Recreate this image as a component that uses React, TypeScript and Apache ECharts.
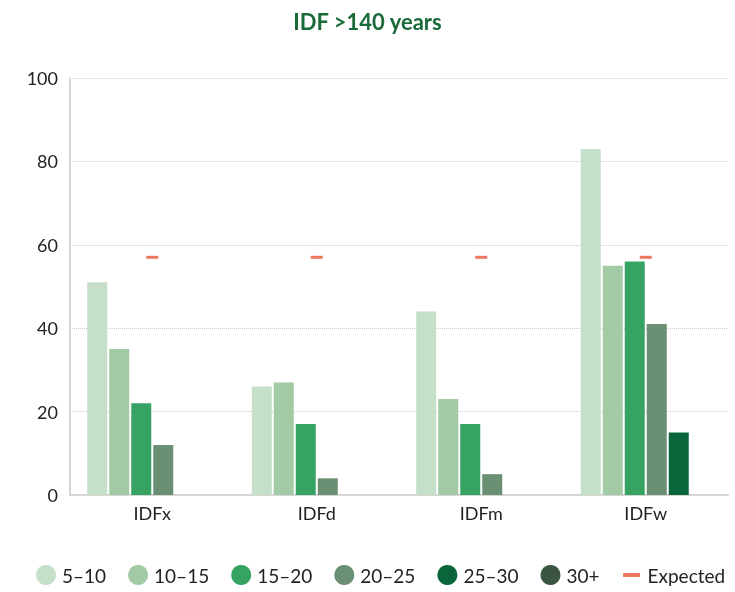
import React, { useEffect, useRef } from "react";
import * as echarts from "echarts";

const categories = ["IDFx", "IDFd", "IDFm", "IDFw"];
const seriesNames = ["5–10", "10–15", "15–20", "20–25", "25–30", "30+"];
const v5_10 = [51, 26, 44, 83];
const v10_15 = [35, 27, 23, 55];
const v15_20 = [22, 17, 17, 56];
const v20_25 = [12, 4, 5, 41];
const v25_30 = [0, 0, 0, 15];
const v30p = [0, 0, 0, 0];
const expected = [57, 57, 57, 57];
const yTicks = [0, 20, 40, 60, 80, 100];

const colors = ["#c5dfc8", "#a1caa5", "#36a363", "#6a8f72", "#0b653b", "#3c5543"];
const FONT = "Lato, 'Open Sans', sans-serif";

export default function App() {
  const ref = useRef<HTMLDivElement>(null);
  useEffect(() => {
    const chart = echarts.init(ref.current!, undefined, { renderer: "svg" });
    const values = [v5_10, v10_15, v15_20, v20_25, v25_30, v30p];
    const barSeries = values.map((vals, i) => ({
      name: seriesNames[i],
      type: "bar",
      data: vals,
      barWidth: 20,
      barGap: "10%",
      itemStyle: { color: colors[i] },
    }));
    chart.setOption({
      animation: false,
      textStyle: { fontFamily: FONT },
      title: {
        text: "IDF >140 years",
        left: "center",
        top: 5,
        textStyle: { color: "#1a6a3a", fontSize: 22, fontWeight: "bold", fontFamily: FONT },
      },
      grid: { left: 70, right: 7, top: 78, bottom: 97, containLabel: false },
      legend: {
        bottom: 7,
        left: 36,
        right: 0,
        padding: 0,
        itemWidth: 20,
        itemHeight: 20,
        itemGap: 22,
        textStyle: { fontSize: 19, color: "#222", fontFamily: FONT, padding: [0, 0, 0, 1] },
        data: [
          ...seriesNames.map((n) => ({ name: n, icon: "circle" })),
          { name: "Expected", icon: "path://M0,0M20,20M1.5,8h17v4h-17z" },
        ],
      },
      xAxis: {
        type: "category",
        data: categories,
        axisLine: { lineStyle: { color: "#d6d6d6", width: 2 } },
        axisTick: { show: false },
        axisLabel: { fontSize: 18, color: "#222", margin: 9, fontFamily: FONT },
      },
      yAxis: {
        type: "value",
        min: yTicks[0],
        max: yTicks[yTicks.length - 1],
        interval: 20,
        axisLine: { show: true, lineStyle: { color: "#d6d6d6", width: 2 } },
        axisTick: { show: false },
        axisLabel: { fontSize: 18, color: "#222", margin: 12, fontFamily: FONT },
        splitLine: { lineStyle: { color: "#cccccc", type: "dotted", width: 1 } },
      },
      series: [
        ...barSeries,
        {
          name: "Expected",
          type: "scatter",
          data: expected,
          symbol: "rect",
          symbolSize: [12, 3],
          itemStyle: { color: "#e8553a" },
          z: 5,
        },
      ],
    });
    return () => chart.dispose();
  }, []);
  return (
    <div
      ref={ref}
      style={{ position: "fixed", left: 0, top: 0, width: 735, height: 592 }}
    />
  );
}
